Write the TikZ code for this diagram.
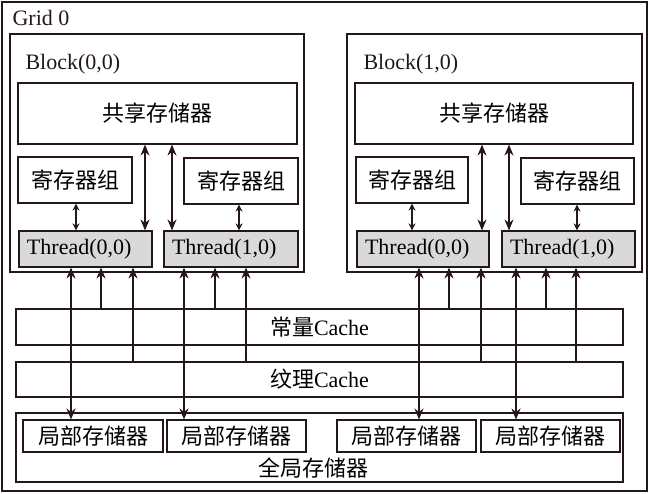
\documentclass[tikz,border=0pt]{standalone}
\usepackage{fontspec}
\setmainfont{Liberation Serif}
\newfontfamily\cjk{Noto Sans CJK SC}
\usepackage{tikz}
\usetikzlibrary{arrows.meta}
\definecolor{ink}{HTML}{231815}

\begin{document}
\begin{tikzpicture}[
  x=1pt, y=-1pt,
  line width=1.1pt, draw=ink,
  font=\fontsize{22}{26}\selectfont,
  box/.style={draw=ink, inner sep=0pt, fill=white},
  thread/.style={box, fill=gray!30, inner xsep=8pt, align=left, text width=#1},
  tag/.style={anchor=base west, inner sep=0pt, text=ink},
  both/.style={draw=ink, {Stealth[length=11pt,width=9pt]}-{Stealth[length=11pt,width=9pt]}},
  short/.style={draw=ink, {Stealth[length=7pt,width=7pt]}-{Stealth[length=7pt,width=7pt]}},
  upto/.style={draw=ink, -{Stealth[length=11pt,width=9pt]}}
]
\useasboundingbox (0,0) rectangle (650,493);

% Grid and blocks
\node[box, minimum width=645pt, minimum height=489pt] (grid) at (324.5,246.5) {};
\node[tag] (gridlbl) at (12,25) {Grid 0};
\node[box, minimum width=294pt, minimum height=238pt] (blk0) at (157,153) {};
\node[box, minimum width=295pt, minimum height=238pt] (blk1) at (494.5,153) {};
\node[tag] (blk0lbl) at (25,69) {Block(0,0)};
\node[tag] (blk1lbl) at (363,69) {Block(1,0)};

% Shared memory
\node[box, minimum width=279pt, minimum height=61pt] (sm0) at (157.5,113.5) {\cjk 共享存储器};
\node[box, minimum width=278pt, minimum height=61pt] (sm1) at (494,113.5) {\cjk 共享存储器};

% Registers
\node[box, minimum width=114pt, minimum height=46pt] (reg00) at (75,180) {\cjk 寄存器组};
\node[box, minimum width=114pt, minimum height=46pt] (reg01) at (241,181) {\cjk 寄存器组};
\node[box, minimum width=112pt, minimum height=46pt] (reg10) at (412,180) {\cjk 寄存器组};
\node[box, minimum width=113pt, minimum height=46pt] (reg11) at (577.5,181) {\cjk 寄存器组};

% Threads
\node[thread=117pt, minimum height=36pt] (t00) at (85.5,249) {Thread(0,0)};
\node[thread=118pt, minimum height=36pt] (t01) at (231,249) {Thread(1,0)};
\node[thread=116pt, minimum height=36pt] (t10) at (423,249) {Thread(0,0)};
\node[thread=117pt, minimum height=36pt] (t11) at (568.5,249) {Thread(1,0)};

% Caches and global memory
\node[box, minimum width=607pt, minimum height=36pt] (cc) at (319.5,327) {{\cjk 常量}Cache};
\node[box, minimum width=607pt, minimum height=35pt] (tc) at (319.5,379.5) {{\cjk 纹理}Cache};
\node[box, minimum width=607pt, minimum height=69pt] (gm) at (319.5,447.5) {};
\node[inner sep=0pt] (gmlbl) at (313,468) {\cjk 全局存储器};
\node[box, minimum width=140pt, minimum height=32pt] (lm0) at (93,436) {\cjk 局部存储器};
\node[box, minimum width=139pt, minimum height=32pt] (lm1) at (236.5,436) {\cjk 局部存储器};
\node[box, minimum width=139pt, minimum height=32pt] (lm2) at (406.5,436) {\cjk 局部存储器};
\node[box, minimum width=139pt, minimum height=32pt] (lm3) at (550.5,436) {\cjk 局部存储器};

% Columns for the connectors
\coordinate (s0a) at (145,0);  \coordinate (s0b) at (172,0);
\coordinate (s1a) at (482,0);  \coordinate (s1b) at (509,0);
\coordinate (r00) at (76,0);   \coordinate (r01) at (239,0);
\coordinate (r10) at (412,0);  \coordinate (r11) at (577,0);
\coordinate (a1) at (71,0);   \coordinate (a2) at (101,0);  \coordinate (a3) at (133,0);
\coordinate (a4) at (184,0);  \coordinate (a5) at (215,0);  \coordinate (a6) at (246,0);
\coordinate (b1) at (419,0);  \coordinate (b2) at (449,0);  \coordinate (b3) at (481,0);
\coordinate (b4) at (516,0);  \coordinate (b5) at (546,0);  \coordinate (b6) at (576,0);

% Arrows inside the blocks
\draw[both] (sm0.south -| s0a) -- (t00.north -| s0a);
\draw[both] (sm0.south -| s0b) -- (t01.north -| s0b);
\draw[both] (sm1.south -| s1a) -- (t10.north -| s1a);
\draw[both] (sm1.south -| s1b) -- (t11.north -| s1b);
\draw[short] (reg00.south -| r00) -- (t00.north -| r00);
\draw[short] (reg01.south -| r01) -- (t01.north -| r01);
\draw[short] (reg10.south -| r10) -- (t10.north -| r10);
\draw[short] (reg11.south -| r11) -- (t11.north -| r11);

% Arrows to local memory and from caches
\draw[both] (t00.south -| a1) -- (lm0.north -| a1);
\draw[upto] (cc.north -| a2) -- (t00.south -| a2);
\draw[upto] (tc.north -| a3) -- (t00.south -| a3);
\draw[both] (t01.south -| a4) -- (lm1.north -| a4);
\draw[upto] (cc.north -| a5) -- (t01.south -| a5);
\draw[upto] (tc.north -| a6) -- (t01.south -| a6);
\draw[both] (t10.south -| b1) -- (lm2.north -| b1);
\draw[upto] (cc.north -| b2) -- (t10.south -| b2);
\draw[upto] (tc.north -| b3) -- (t10.south -| b3);
\draw[both] (t11.south -| b4) -- (lm3.north -| b4);
\draw[upto] (cc.north -| b5) -- (t11.south -| b5);
\draw[upto] (tc.north -| b6) -- (t11.south -| b6);

\end{tikzpicture}
\end{document}
